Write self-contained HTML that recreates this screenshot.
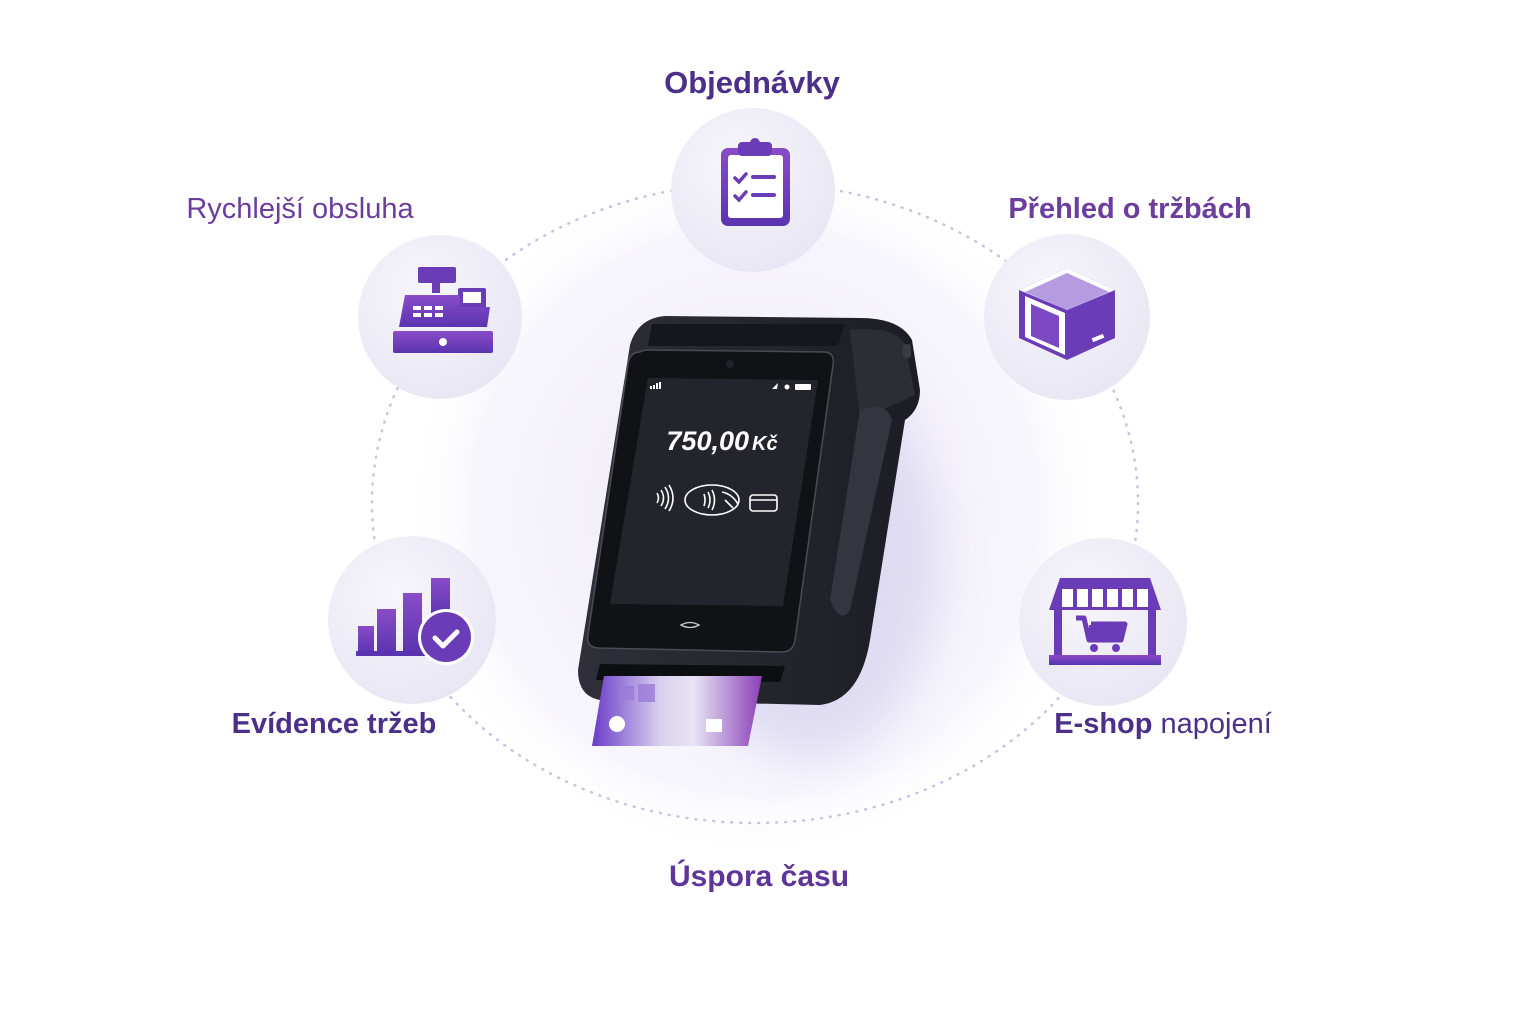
<!DOCTYPE html>
<html><head><meta charset="utf-8"><style>
html,body{margin:0;padding:0;background:#fff;}
svg{display:block}
text{font-family:"Liberation Sans","DejaVu Sans",sans-serif;}
</style></head><body>
<svg width="1536" height="1024" viewBox="0 0 1536 1024" xmlns="http://www.w3.org/2000/svg">
<defs>
<radialGradient id="glow" cx="50%" cy="50%" r="50%">
<stop offset="0" stop-color="#eeeaf8"/><stop offset="0.8" stop-color="#f7f5fc"/><stop offset="1" stop-color="#fff" stop-opacity="0"/>
</radialGradient>
<radialGradient id="bub" cx="40%" cy="35%" r="65%">
<stop offset="0" stop-color="#f7f6fc"/><stop offset="1" stop-color="#e9e7f3"/>
</radialGradient>
<linearGradient id="pur" x1="0" y1="0" x2="0" y2="1">
<stop offset="0" stop-color="#8a4cc8"/><stop offset="1" stop-color="#5a34b0"/>
</linearGradient>
<linearGradient id="card" x1="0" y1="0" x2="1" y2="0">
<stop offset="0" stop-color="#6a3cc8"/><stop offset="0.4" stop-color="#d8d0ee"/><stop offset="0.6" stop-color="#e8e4f4"/><stop offset="1" stop-color="#8a40b8"/>
</linearGradient>
<linearGradient id="body" x1="0" y1="0" x2="1" y2="0">
<stop offset="0" stop-color="#2e2f38"/><stop offset="1" stop-color="#1c1d24"/>
</linearGradient>
<filter id="sh" x="-30%" y="-30%" width="160%" height="160%"><feGaussianBlur stdDeviation="22"/></filter>
</defs>
<circle cx="755" cy="510" r="350" fill="url(#glow)"/>
<ellipse cx="755" cy="503" rx="383" ry="320" fill="none" stroke="#c9c2e2" stroke-width="2.5" stroke-dasharray="1 8" stroke-linecap="round"/>

<g>
<circle cx="753" cy="190" r="82" fill="url(#bub)"/>
<circle cx="440" cy="317" r="82" fill="url(#bub)"/>
<circle cx="1067" cy="317" r="83" fill="url(#bub)"/>
<circle cx="412" cy="620" r="84" fill="url(#bub)"/>
<circle cx="1103" cy="622" r="84" fill="url(#bub)"/>
</g>

<g>
<rect x="721" y="148" width="69" height="78" rx="7" fill="url(#pur)"/>
<rect x="728" y="155" width="55" height="63" rx="3" fill="#fff"/>
<rect x="738" y="142" width="34" height="14" rx="4" fill="#6a3cb8"/>
<circle cx="755" cy="143" r="5" fill="#6a3cb8"/>
<path d="M735 178l4 4 7-8M735 196l4 4 7-8" stroke="#6a3cb8" stroke-width="3.5" fill="none" stroke-linecap="round"/>
<rect x="751" y="175" width="25" height="4" rx="2" fill="#6a3cb8"/>
<rect x="751" y="193" width="25" height="4" rx="2" fill="#6a3cb8"/>
</g>

<g>
<rect x="418" y="267" width="38" height="16" rx="2" fill="#6a3cb8"/>
<rect x="432" y="283" width="8" height="10" fill="#6a3cb8"/>
<rect x="458" y="288" width="28" height="22" rx="2" fill="#6a3cb8"/>
<rect x="463" y="292" width="18" height="11" fill="#fff"/>
<path d="M405 295h55v12h30l-3 20h-88z" fill="url(#pur)"/>
<rect x="413" y="306" width="8" height="4" fill="#fff"/><rect x="424" y="306" width="8" height="4" fill="#fff"/><rect x="435" y="306" width="8" height="4" fill="#fff"/>
<rect x="413" y="313" width="8" height="4" fill="#fff"/><rect x="424" y="313" width="8" height="4" fill="#fff"/><rect x="435" y="313" width="8" height="4" fill="#fff"/>
<rect x="393" y="331" width="100" height="22" rx="2" fill="url(#pur)"/>
<circle cx="443" cy="342" r="4" fill="#fff"/>
</g>

<g>
<path d="M1067 268l48 22v48l-48 22-48-22v-48z" fill="#6a3cb8"/>
<path d="M1067 268l48 22-48 20-48-20z" fill="#fff"/>
<path d="M1025 292l42 18 42-18-42-19z" fill="#b59be0"/>
<path d="M1025 296l40 17v42l-40-18z" fill="#fff"/>
<path d="M1031 304l28 12v32l-28-12z" fill="#7d48c4"/>
<path d="M1071 313l38-17v40l-38 18z" fill="#6a3cb8"/>
<rect x="1092" y="336" width="12" height="4" fill="#fff" transform="rotate(-22 1098 338)"/>
</g>

<g>
<rect x="358" y="626" width="16" height="28" fill="url(#pur)"/>
<rect x="377" y="609" width="19" height="45" fill="url(#pur)"/>
<rect x="403" y="593" width="19" height="61" fill="url(#pur)"/>
<rect x="431" y="578" width="19" height="40" fill="url(#pur)"/>
<rect x="356" y="651" width="70" height="5" fill="#5a34b0"/>
<circle cx="446" cy="637" r="28" fill="#fff"/>
<circle cx="446" cy="637" r="25" fill="#6a3cb8"/>
<path d="M435 638l8 8 14-14" stroke="#fff" stroke-width="5" fill="none" stroke-linecap="round" stroke-linejoin="round"/>
</g>

<g>
<path d="M1060 578h90l11 32h-112z" fill="#6a3cb8"/>
<path d="M1062 589h11v18h-11zM1077 589h11v18h-11zM1092 589h11v18h-11zM1107 589h11v18h-11zM1122 589h11v18h-11zM1137 589h11v18h-11z" fill="#fff"/>
<rect x="1054" y="610" width="8" height="46" fill="#6a3cb8"/>
<rect x="1148" y="610" width="8" height="46" fill="#6a3cb8"/>
<rect x="1049" y="655" width="112" height="10" fill="url(#pur)"/>
<path d="M1076 618h8l5 22h32l4-16h-34" stroke="#6a3cb8" stroke-width="5" fill="none" stroke-linejoin="round"/>
<rect x="1089" y="625" width="33" height="13" fill="#6a3cb8"/>
<circle cx="1094" cy="648" r="4" fill="#6a3cb8"/><circle cx="1116" cy="648" r="4" fill="#6a3cb8"/>
</g>

<ellipse cx="810" cy="560" rx="130" ry="200" fill="#cfcbec" opacity="0.55" filter="url(#sh)"/>
<g>
<path d="M860 318 Q900 318 912 340 L920 390 Q920 410 905 420 L870 640 Q860 700 820 705 L600 700 Q578 696 578 670 L630 345 Q638 318 665 316 Z" fill="url(#body)"/>
<path d="M850 330 Q895 325 905 345 L915 395 L860 420 Z" fill="#2c2d35"/>
<path d="M860 410 Q885 400 892 420 L850 610 Q840 625 830 600 Z" fill="#34353e"/>
<rect x="903" y="344" width="8" height="14" rx="3" fill="#3a3b44"/>
<path d="M652 324 L845 324 L838 346 L648 346 Z" fill="#16171c"/>
<path d="M640 352 Q642 350 650 350 L825 352 Q835 353 833 365 L795 640 Q793 652 782 652 L598 648 Q586 647 588 635 L628 364 Q630 352 640 352Z" fill="#111216" stroke="#4a4b55" stroke-width="1.5"/>
<path d="M648 378 L818 380 L783 606 L610 604 Z" fill="#24252c"/>
<circle cx="730" cy="364" r="4" fill="#22232a"/>
<text x="722" y="450" font-size="27" fill="#fff" text-anchor="middle" font-style="italic" font-weight="700">750,00<tspan font-size="20" dx="3">Kč</tspan></text>
<g stroke="#fff" stroke-width="1.6" fill="none">
<path d="M657 493q3 5 0 10M661 490q5 8 0 16M665 487q7 11 0 22M669 485q8 13 0 26"/>
<ellipse cx="712" cy="500" rx="27" ry="15"/>
<path d="M704 494q2 6 0 12M708 492q4 8 0 16M712 490q5 10 0 20"/>
<path d="M722 492q10 2 16 12M725 500l8 8"/>
<rect x="750" y="495" width="27" height="16" rx="3"/>
<line x1="750" y1="500" x2="777" y2="500"/>
</g>
<g fill="#fff"><rect x="650" y="386" width="2" height="3"/><rect x="653" y="385" width="2" height="4"/><rect x="656" y="383" width="2" height="6"/><rect x="659" y="382" width="2" height="7"/>
<rect x="795" y="384" width="16" height="6" rx="1"/><circle cx="787" cy="387" r="2.5"/><path d="M772 389l6-6-1 6z"/></g>
<path d="M681 625q9-5 18 0q-9 5-18 0z" stroke="#ccc" stroke-width="1.3" fill="none"/>
<path d="M600 664 L785 666 L780 682 L596 680 Z" fill="#0d0e12"/>
<path d="M604 676 L762 676 L748 746 L592 746 Z" fill="url(#card)"/>
<rect x="622" y="686" width="12" height="14" fill="#9a7ad8" opacity=".8"/>
<rect x="638" y="684" width="17" height="18" fill="#9a7ad8" opacity=".8"/>
<circle cx="617" cy="724" r="8" fill="#fff"/>
<rect x="706" y="719" width="16" height="13" fill="#fff"/>
</g>

<text x="752" y="93" font-size="31" fill="#4b2f88" text-anchor="middle" font-weight="bold">Objednávky</text>
<text x="300" y="218" font-size="29" fill="#6b3d9c" text-anchor="middle">Rychlejší obsluha</text>
<text x="1130" y="218" font-size="29" fill="#6b3d9c" text-anchor="middle" font-weight="bold">Přehled o tržbách</text>
<text x="334" y="733" font-size="29" fill="#4b2f88" text-anchor="middle" font-weight="bold">Evídence tržeb</text>
<text x="1163" y="733" font-size="29" fill="#4b2f88" text-anchor="middle"><tspan font-weight="bold">E-shop</tspan> napojení</text>
<text x="759" y="886" font-size="30" fill="#5e3598" text-anchor="middle" font-weight="bold">Úspora času</text>
</svg>
</body></html>
